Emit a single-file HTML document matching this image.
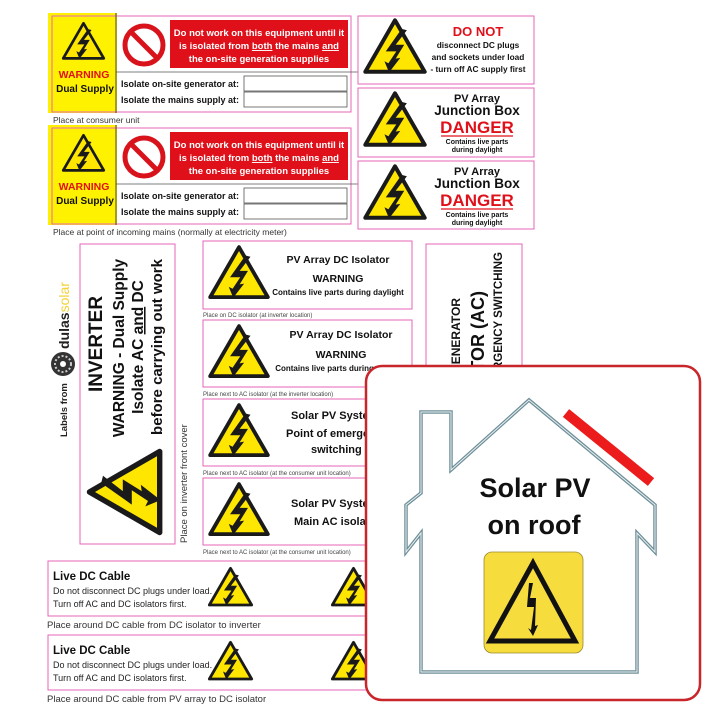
<!DOCTYPE html>
<html><head><meta charset="utf-8"><style>
html,body{margin:0;padding:0;background:#fff;}
svg{display:block;font-family:"Liberation Sans",Arial,sans-serif;}
</style></head><body>
<svg width="720" height="720" viewBox="0 0 720 720" xmlns="http://www.w3.org/2000/svg">
<defs>
<g id="tri">
<polygon points="50,5 95,83 5,83" fill="#ffe600" stroke="#1a1a1a" stroke-width="6" stroke-linejoin="round"/>
<polygon points="60,18 36,52 52,52 40,70 34,67 41,84 58,62 51,63 64,42 51,42 68,20" fill="#1a1a1a"/>
</g>
<g id="nosign">
<circle cx="0" cy="0" r="19" fill="#fff" stroke="#d8131b" stroke-width="5"/>
<line x1="-13" y1="-13" x2="13" y2="13" stroke="#d8131b" stroke-width="5"/>
</g>
</defs>
<rect width="720" height="720" fill="#fff"/>

<!-- Top-left card 1 -->
<g>
<rect x="48" y="13" width="69" height="100" fill="#fff200"/>
<rect x="52" y="16" width="299" height="96" fill="none" stroke="#e466b8" stroke-width="1"/>
<line x1="116" y1="13" x2="116" y2="113" stroke="#444" stroke-width="1"/>
<use href="#tri" transform="translate(61,21) scale(0.45)"/>
<text x="84" y="78" font-size="10.5" font-weight="bold" fill="#e0101a" text-anchor="middle">WARNING</text>
<text x="85" y="92" font-size="10" font-weight="bold" fill="#111" text-anchor="middle">Dual Supply</text>
<use href="#nosign" transform="translate(144,45)"/>
<rect x="170" y="20" width="178" height="48" fill="#e0101a"/>
<text x="259" y="36" font-size="9.5" font-weight="bold" fill="#fff" text-anchor="middle">Do not work on this equipment until it</text>
<text x="259" y="49" font-size="9.5" font-weight="bold" fill="#fff" text-anchor="middle">is isolated from <tspan text-decoration="underline">both</tspan> the mains <tspan text-decoration="underline">and</tspan></text>
<text x="259" y="62" font-size="9.5" font-weight="bold" fill="#fff" text-anchor="middle">the on-site generation supplies</text>
<line x1="116" y1="72" x2="360" y2="72" stroke="#555" stroke-width="0.8"/>
<text x="121" y="87" font-size="9" font-weight="bold" fill="#111">Isolate on-site generator at:</text>
<rect x="244" y="76" width="103" height="15" fill="#fff" stroke="#555" stroke-width="0.8"/>
<text x="121" y="103" font-size="9" font-weight="bold" fill="#111">Isolate the mains supply at:</text>
<rect x="244" y="92" width="103" height="15" fill="#fff" stroke="#555" stroke-width="0.8"/>
<text x="53" y="123" font-size="8.5" fill="#333">Place at consumer unit</text>
</g>
<!-- Top-left card 2 -->
<g transform="translate(0,112)">
<rect x="48" y="13" width="69" height="100" fill="#fff200"/>
<rect x="52" y="16" width="299" height="96" fill="none" stroke="#e466b8" stroke-width="1"/>
<line x1="116" y1="13" x2="116" y2="113" stroke="#444" stroke-width="1"/>
<use href="#tri" transform="translate(61,21) scale(0.45)"/>
<text x="84" y="78" font-size="10.5" font-weight="bold" fill="#e0101a" text-anchor="middle">WARNING</text>
<text x="85" y="92" font-size="10" font-weight="bold" fill="#111" text-anchor="middle">Dual Supply</text>
<use href="#nosign" transform="translate(144,45)"/>
<rect x="170" y="20" width="178" height="48" fill="#e0101a"/>
<text x="259" y="36" font-size="9.5" font-weight="bold" fill="#fff" text-anchor="middle">Do not work on this equipment until it</text>
<text x="259" y="49" font-size="9.5" font-weight="bold" fill="#fff" text-anchor="middle">is isolated from <tspan text-decoration="underline">both</tspan> the mains <tspan text-decoration="underline">and</tspan></text>
<text x="259" y="62" font-size="9.5" font-weight="bold" fill="#fff" text-anchor="middle">the on-site generation supplies</text>
<line x1="116" y1="72" x2="360" y2="72" stroke="#555" stroke-width="0.8"/>
<text x="121" y="87" font-size="9" font-weight="bold" fill="#111">Isolate on-site generator at:</text>
<rect x="244" y="76" width="103" height="15" fill="#fff" stroke="#555" stroke-width="0.8"/>
<text x="121" y="103" font-size="9" font-weight="bold" fill="#111">Isolate the mains supply at:</text>
<rect x="244" y="92" width="103" height="15" fill="#fff" stroke="#555" stroke-width="0.8"/>
<text x="53" y="123" font-size="8.5" fill="#333">Place at point of incoming mains (normally at electricity meter)</text>
</g>

<!-- Right top cards -->
<rect x="358" y="16" width="176" height="68" fill="#fff" stroke="#e466b8"/>
<use href="#tri" transform="translate(362,17) scale(0.66)"/>
<text x="478" y="36" font-size="13" font-weight="bold" fill="#e0101a" text-anchor="middle">DO NOT</text>
<text x="478" y="48" font-size="8.3" font-weight="bold" fill="#111" text-anchor="middle">disconnect DC plugs</text>
<text x="478" y="60" font-size="8.3" font-weight="bold" fill="#111" text-anchor="middle">and sockets under load</text>
<text x="478" y="72" font-size="8.3" font-weight="bold" fill="#111" text-anchor="middle">- turn off AC supply first</text>

<g>
<rect x="358" y="88" width="176" height="69" fill="#fff" stroke="#e466b8"/>
<use href="#tri" transform="translate(362,90) scale(0.66)"/>
<text x="477" y="102" font-size="11" font-weight="bold" fill="#111" text-anchor="middle">PV Array</text>
<text x="477" y="115" font-size="13.5" font-weight="bold" fill="#111" text-anchor="middle">Junction Box</text>
<text x="477" y="133" font-size="17" font-weight="bold" fill="#e0101a" text-anchor="middle">DANGER</text>
<line x1="441" y1="136" x2="513" y2="136" stroke="#e0101a" stroke-width="1.2"/>
<text x="477" y="144" font-size="7" font-weight="bold" fill="#111" text-anchor="middle">Contains live parts</text>
<text x="477" y="152" font-size="7" font-weight="bold" fill="#111" text-anchor="middle">during daylight</text>
</g>
<g transform="translate(0,73)">
<rect x="358" y="88" width="176" height="68" fill="#fff" stroke="#e466b8"/>
<use href="#tri" transform="translate(362,90) scale(0.66)"/>
<text x="477" y="102" font-size="11" font-weight="bold" fill="#111" text-anchor="middle">PV Array</text>
<text x="477" y="115" font-size="13.5" font-weight="bold" fill="#111" text-anchor="middle">Junction Box</text>
<text x="477" y="133" font-size="17" font-weight="bold" fill="#e0101a" text-anchor="middle">DANGER</text>
<line x1="441" y1="136" x2="513" y2="136" stroke="#e0101a" stroke-width="1.2"/>
<text x="477" y="144" font-size="7" font-weight="bold" fill="#111" text-anchor="middle">Contains live parts</text>
<text x="477" y="152" font-size="7" font-weight="bold" fill="#111" text-anchor="middle">during daylight</text>
</g>

<!-- Labels from dulas solar -->
<text transform="translate(67,437) rotate(-90)" font-size="9.5" font-weight="bold" fill="#222">Labels from</text>
<circle cx="63" cy="364" r="12" fill="#333"/>
<circle cx="63" cy="364" r="8" fill="none" stroke="#ccc" stroke-width="2" stroke-dasharray="2 2"/>
<circle cx="63" cy="364" r="3" fill="#fff"/>
<text transform="translate(69,349) rotate(-90)" font-size="14" font-weight="bold" fill="#222">dulas<tspan fill="#f3d23a" font-weight="normal">solar</tspan></text>

<!-- Inverter card -->
<rect x="80" y="244" width="95" height="300" fill="#fff" stroke="#e466b8"/>
<text transform="translate(102,344) rotate(-90)" font-size="19" font-weight="bold" fill="#111" text-anchor="middle">INVERTER</text>
<text transform="translate(124,348) rotate(-90)" font-size="15.5" font-weight="bold" fill="#111" text-anchor="middle">WARNING - Dual Supply</text>
<text transform="translate(143,347) rotate(-90)" font-size="15.5" font-weight="bold" fill="#111" text-anchor="middle">Isolate AC <tspan text-decoration="underline">and</tspan> DC</text>
<text transform="translate(162,347) rotate(-90)" font-size="15" font-weight="bold" fill="#111" text-anchor="middle">before carrying out work</text>
<use href="#tri" transform="translate(85,537) rotate(-90) scale(0.9)"/>
<text transform="translate(187,543) rotate(-90)" font-size="9.5" fill="#333">Place on inverter front cover</text>

<!-- Middle column -->
<g>
<rect x="203" y="241" width="209" height="68" fill="#fff" stroke="#e466b8"/>
<use href="#tri" transform="translate(207,244) scale(0.64)"/>
<text x="338" y="263" font-size="10.5" font-weight="bold" fill="#111" text-anchor="middle">PV Array DC Isolator</text>
<text x="338" y="282" font-size="10.5" font-weight="bold" fill="#111" text-anchor="middle">WARNING</text>
<text x="338" y="295" font-size="8" font-weight="bold" fill="#111" text-anchor="middle">Contains live parts during daylight</text>
<text x="203" y="317" font-size="6" fill="#444">Place on DC isolator (at inverter location)</text>
</g>
<g transform="translate(0,79)">
<rect x="203" y="241" width="209" height="67" fill="#fff" stroke="#e466b8"/>
<use href="#tri" transform="translate(207,244) scale(0.64)"/>
<text x="341" y="259" font-size="10.5" font-weight="bold" fill="#111" text-anchor="middle">PV Array DC Isolator</text>
<text x="341" y="279" font-size="10.5" font-weight="bold" fill="#111" text-anchor="middle">WARNING</text>
<text x="341" y="292" font-size="8" font-weight="bold" fill="#111" text-anchor="middle">Contains live parts during daylight</text>
<text x="203" y="317" font-size="6" fill="#444">Place next to AC isolator (at the inverter location)</text>
</g>
<g transform="translate(0,158)">
<rect x="203" y="241" width="209" height="67" fill="#fff" stroke="#e466b8"/>
<use href="#tri" transform="translate(207,244) scale(0.64)"/>
<text x="291" y="261" font-size="11" font-weight="bold" fill="#111">Solar PV System</text>
<text x="286" y="279" font-size="11" font-weight="bold" fill="#111">Point of emergency</text>
<text x="311" y="295" font-size="11" font-weight="bold" fill="#111">switching</text>
<text x="203" y="317" font-size="6" fill="#444">Place next to AC isolator (at the consumer unit location)</text>
</g>
<g transform="translate(0,237)">
<rect x="203" y="241" width="209" height="67" fill="#fff" stroke="#e466b8"/>
<use href="#tri" transform="translate(207,244) scale(0.64)"/>
<text x="291" y="270" font-size="11" font-weight="bold" fill="#111">Solar PV System</text>
<text x="294" y="288" font-size="11" font-weight="bold" fill="#111">Main AC isolator</text>
<text x="203" y="317" font-size="6" fill="#444">Place next to AC isolator (at the consumer unit location)</text>
</g>

<!-- Generator card (rotated) -->
<rect x="426" y="244" width="96" height="200" fill="#fff" stroke="#e466b8"/>
<text transform="translate(460,298) rotate(-90)" font-size="12" font-weight="bold" fill="#111" text-anchor="end">SOLAR PV GENERATOR</text>
<text transform="translate(484,291) rotate(-90)" font-size="18" font-weight="bold" fill="#111" text-anchor="end">ISOLATOR (AC)</text>
<text transform="translate(502,252) rotate(-90)" font-size="11.5" font-weight="bold" fill="#111" text-anchor="end">POINT OF EMERGENCY SWITCHING</text>

<!-- Live DC cable cards -->
<g>
<rect x="48" y="561" width="330" height="55" fill="#fff" stroke="#e466b8"/>
<text x="53" y="580" font-size="11.5" font-weight="bold" fill="#111">Live DC Cable</text>
<text x="53" y="594" font-size="9" fill="#222">Do not disconnect DC plugs under load.</text>
<text x="53" y="607" font-size="9" fill="#222">Turn off AC and DC isolators first.</text>
<use href="#tri" transform="translate(207,566) scale(0.47)"/>
<use href="#tri" transform="translate(330,566) scale(0.47)"/>
<text x="47" y="628" font-size="9.5" fill="#333">Place around DC cable from DC isolator to inverter</text>
</g>
<g transform="translate(0,74)">
<rect x="48" y="561" width="330" height="55" fill="#fff" stroke="#e466b8"/>
<text x="53" y="580" font-size="11.5" font-weight="bold" fill="#111">Live DC Cable</text>
<text x="53" y="594" font-size="9" fill="#222">Do not disconnect DC plugs under load.</text>
<text x="53" y="607" font-size="9" fill="#222">Turn off AC and DC isolators first.</text>
<use href="#tri" transform="translate(207,566) scale(0.47)"/>
<use href="#tri" transform="translate(330,566) scale(0.47)"/>
<text x="47" y="628" font-size="9.5" fill="#333">Place around DC cable from PV array to DC isolator</text>
</g>

<!-- Big Solar PV on roof card -->
<rect x="366" y="366" width="334" height="334" rx="16" ry="16" fill="#fff" stroke="#c8262b" stroke-width="2.5"/>
<polygon points="421,412 451,412 451,470 529,400 655,505 655,552 637,533 637,672 421,672 421,533 406,552 406,505 421,493" fill="#fff" stroke="#6e8f98" stroke-width="3.5" stroke-linejoin="miter"/>
<polygon points="421,412 451,412 451,470 529,400 655,505 655,552 637,533 637,672 421,672 421,533 406,552 406,505 421,493" fill="none" stroke="#e9f0f2" stroke-width="1"/>
<line x1="566" y1="413" x2="651" y2="482" stroke="#ec1c1c" stroke-width="10"/>
<text x="535" y="497" font-size="27" font-weight="bold" fill="#111" text-anchor="middle">Solar PV</text>
<text x="534" y="534" font-size="27" font-weight="bold" fill="#111" text-anchor="middle">on roof</text>
<rect x="484" y="552" width="99" height="101" rx="8" ry="8" fill="#f7dc3e" stroke="#9a8a30" stroke-width="0.8"/>
<polygon points="533,563 575,641 490,641" fill="none" stroke="#111" stroke-width="5" stroke-linejoin="miter"/>
<polygon points="529,583 527,607 534,607 531,630 528,628 533,636 538,625 535,626 536,598 530,598 533,583" fill="#111"/>
</svg>
</body></html>
